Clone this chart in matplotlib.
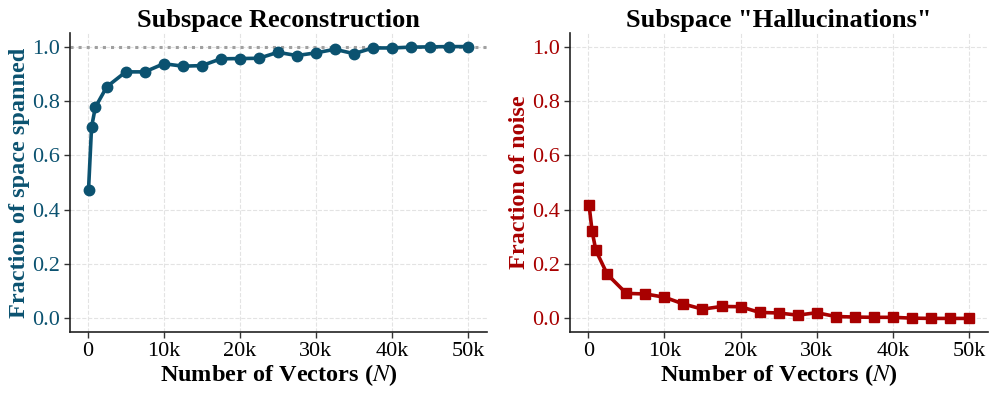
import matplotlib
matplotlib.use("Agg")
import matplotlib.pyplot as plt
from matplotlib.ticker import FuncFormatter

plt.rcParams['font.family'] = ['Liberation Serif', 'DejaVu Serif']
plt.rcParams['mathtext.fontset'] = 'stix'

n_vectors = [100, 500, 1000, 2500, 5000, 7500, 10000, 12500, 15000, 17500, 20000,
             22500, 25000, 27500, 30000, 32500, 35000, 37500, 40000, 42500,
             45000, 47500, 50000]
frac_spanned = [0.472, 0.704, 0.777, 0.852, 0.907, 0.907, 0.937, 0.928, 0.930,
                0.955, 0.956, 0.957, 0.979, 0.967, 0.977, 0.990, 0.974, 0.995,
                0.995, 0.998, 0.999, 1.0, 1.0]
frac_noise = [0.418, 0.321, 0.250, 0.162, 0.092, 0.090, 0.078, 0.053, 0.034,
              0.044, 0.043, 0.022, 0.020, 0.012, 0.021, 0.007, 0.005, 0.004,
              0.004, 0.001, 0.0, 0.0, 0.0]
x_ticks = [0, 10000, 20000, 30000, 40000, 50000]
y_ticks = [0.0, 0.2, 0.4, 0.6, 0.8, 1.0]

blue = '#0b5270'
red = '#a80000'

fig = plt.figure(figsize=(9.96, 3.94), dpi=100)
ax1 = fig.add_axes([69.5/996, 1-332/394, (487-69.5)/996, (332-33)/394])
ax2 = fig.add_axes([570/996, 1-332/394, (988-570)/996, (332-33)/394])

def kfmt(v, pos):
    return '0' if v == 0 else f'{int(v/1000)}k'

for ax, y, color, marker, ylabel, title in [
        (ax1, frac_spanned, blue, 'o', 'Fraction of space spanned', 'Subspace Reconstruction'),
        (ax2, frac_noise, red, 's', 'Fraction of noise', 'Subspace "Hallucinations"')]:
    ax.plot(n_vectors, y, color=color, marker=marker, lw=2.6, ms=7.5, zorder=3)
    ax.set_ylim(-0.05, 1.05)
    ax.set_xlim(-2400, 52500)
    ax.set_xticks(x_ticks)
    ax.set_yticks(y_ticks)
    ax.xaxis.set_major_formatter(FuncFormatter(kfmt))
    ax.yaxis.set_major_formatter(FuncFormatter(lambda v, p: f'{v:.1f}'))
    ax.grid(True, ls='--', color='#e3e3e3', lw=0.8)
    ax.set_axisbelow(True)
    for s in ['top', 'right']:
        ax.spines[s].set_visible(False)
    for s in ['left', 'bottom']:
        ax.spines[s].set_color('#222222')
        ax.spines[s].set_linewidth(1.2)
    ax.tick_params(labelsize=16, length=4, width=1, color='#333333', pad=3)
    ax.tick_params(axis='y', labelcolor=color)
    ax.set_xlabel('Number of Vectors ($N$)', fontsize=17.5, fontweight='bold', labelpad=1)
    ax.set_ylabel(ylabel, fontsize=17.5, fontweight='bold', color=color, labelpad=1.5)
    ax.set_title(title, fontsize=19, fontweight='bold', pad=4)

ax1.axhline(1.0, color='#a0a0a0', ls=':', lw=2.2, zorder=2)

fig.savefig('out.png', dpi=100)
